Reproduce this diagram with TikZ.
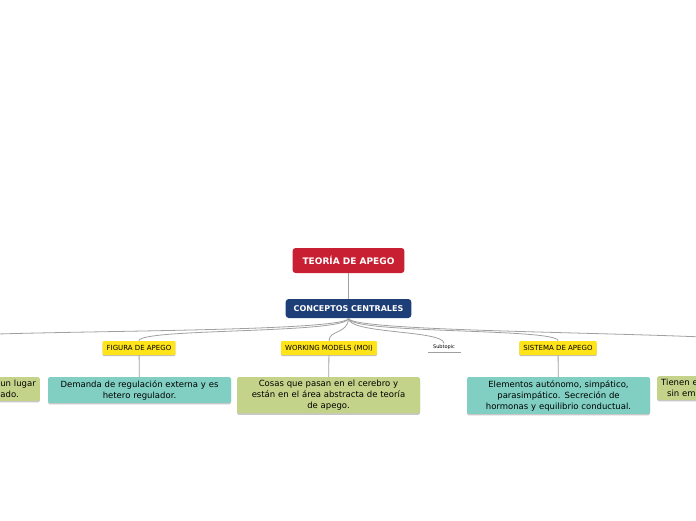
\documentclass[tikz,border=0pt]{standalone}
\usepackage{fontspec}
\setmainfont{DejaVu Sans}
\usetikzlibrary{positioning,shadows}
\definecolor{TopicRed}{RGB}{200,31,50}
\definecolor{TopicBlue}{RGB}{29,62,118}
\definecolor{LabelYellow}{RGB}{255,228,25}
\definecolor{SoftTeal}{RGB}{128,207,194}
\definecolor{SoftOlive}{RGB}{195,211,138}
\definecolor{LinkGray}{RGB}{160,160,160}
\tikzset{
  central/.style={rounded corners=3pt, text=white, inner xsep=10pt,
    minimum height=25pt, font=\fontsize{9}{10}\selectfont\bfseries},
  heading/.style={rounded corners=3pt, fill=TopicBlue, text=white,
    minimum height=19pt, inner xsep=8pt,
    font=\fontsize{8}{9}\selectfont\bfseries},
  tag/.style={fill=LabelYellow, rounded corners=1pt, minimum height=14pt,
    inner xsep=4pt, inner ysep=0pt, font=\fontsize{7}{8}\selectfont,
    drop shadow={shadow xshift=0pt, shadow yshift=-1pt,
      fill=black!25, opacity=1}},
  note/.style={rounded corners=1.5pt, text width=175pt, align=center,
    inner xsep=4pt, inner ysep=3pt, font=\fontsize{8.5}{11}\selectfont,
    drop shadow={shadow xshift=0pt, shadow yshift=-1.5pt,
      fill=black!22, opacity=1}},
  link/.style={draw=LinkGray, line width=0.8pt}
}

\begin{document}
\begin{tikzpicture}[x=1pt,y=-1pt]
  \useasboundingbox (0,0) rectangle (696,520);
  \clip (0,0) rectangle (696,520);

  % main topics
  \node[central, fill=TopicRed] (teoria) at (348.5,260.5) {TEORÍA DE APEGO};
  \node[heading] (conceptos) at (348.5,308.5) {CONCEPTOS CENTRALES};
  \draw[link] (teoria) -- (conceptos);

  % labels
  \node[tag] (figura) at (139,348) {FIGURA DE APEGO};
  \node[tag] (working) at (329,348) {WORKING MODELS (MOI)};
  \node[inner sep=1pt, font=\fontsize{5}{6}\selectfont] (subtopic)
    at (444,347) {Subtopic};
  \node[tag] (sistema) at (558,348) {SISTEMA DE APEGO};
  \coordinate (izq) at (-60,337);
  \coordinate (der) at (760,341);
  \draw[LinkGray, line width=0.8pt] (428,352.5) -- (461,352.5);

  % notes
  \node[note, fill=SoftOlive, text width=180pt, align=right,
    anchor=north east] (lugar) at (40,377)
    {un lugar\\ado.\rule{17pt}{0pt}};
  \node[note, fill=SoftTeal, anchor=north] (demanda) at (139.5,377)
    {Demanda de regulación externa y es\\hetero regulador.};
  \node[note, fill=SoftOlive, anchor=north] (cosas) at (328.5,377)
    {Cosas que pasan en el cerebro y\\están en el área abstracta de teoría\\de apego.};
  \node[note, fill=SoftTeal, anchor=north] (elementos) at (558.5,377)
    {Elementos autónomo, simpático,\\parasimpático. Secreción de\\hormonas y equilibrio conductual.};
  \node[note, fill=SoftOlive, text width=180pt, align=left,
    anchor=north west] (tienen) at (657,376)
    {Tienen e\\\hspace*{6pt}sin em};

  % connectors
  \draw[link] (conceptos.south) .. controls (348,333) and (0,330) .. (izq);
  \draw[link] (conceptos.south) .. controls (348,334) and (139,328) .. (figura.north);
  \draw[link] (conceptos.south) .. controls (348,334) and (329,330) .. (working.north);
  \draw[link] (conceptos.south) .. controls (348,334) and (444,330) .. (subtopic.north);
  \draw[link] (conceptos.south) .. controls (348,334) and (558,328) .. (sistema.north);
  \draw[link] (conceptos.south) .. controls (348,333) and (696,332) .. (der);
  \draw[link] (figura) -- (demanda);
  \draw[link] (working) -- (cosas);
  \draw[link] (sistema) -- (elementos);
\end{tikzpicture}
\end{document}
